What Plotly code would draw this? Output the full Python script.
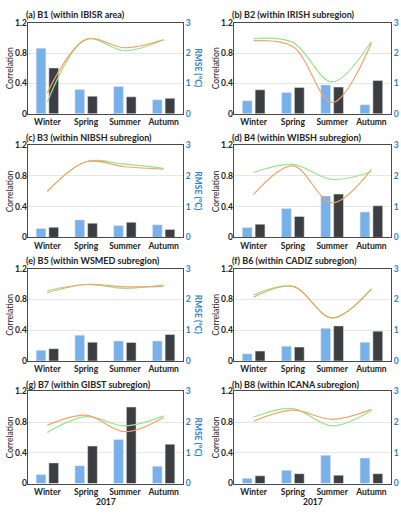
import plotly.graph_objects as go

seasons = ["Winter", "Spring", "Summer", "Autumn"]
titles = ["(a) B1 (within IBISR area)", "(b) B2 (within IRISH subregion)",
          "(c) B3 (within NIBSH subregion)", "(d) B4 (within WIBSH subregion)",
          "(e) B5 (within WSMED subregion)", "(f) B6 (within CADIZ subregion)",
          "(g) B7 (within GIBST subregion)", "(h) B8 (within ICANA subregion)"]

# RMSE bars (right axis, °C)
rmse_blue = [
    [2.16, 0.80, 0.90, 0.46],
    [0.43, 0.70, 0.95, 0.30],
    [0.29, 0.57, 0.39, 0.41],
    [0.32, 0.94, 1.35, 0.83],
    [0.35, 0.84, 0.65, 0.65],
    [0.23, 0.48, 1.06, 0.61],
    [0.29, 0.58, 1.43, 0.56],
    [0.17, 0.43, 0.92, 0.83],
]
rmse_dark = [
    [1.51, 0.58, 0.56, 0.51],
    [0.79, 0.87, 0.88, 1.10],
    [0.33, 0.46, 0.49, 0.26],
    [0.43, 0.68, 1.41, 1.03],
    [0.40, 0.61, 0.60, 0.86],
    [0.32, 0.45, 1.14, 0.97],
    [0.67, 1.22, 2.49, 1.28],
    [0.25, 0.32, 0.27, 0.32],
]
# Correlation lines (left axis)
corr_orange = [
    [0.28, 0.98, 0.87, 0.975],
    [0.96, 0.885, 0.15, 0.93],
    [0.60, 0.985, 0.92, 0.89],
    [0.56, 0.93, 0.45, 0.885],
    [0.89, 0.995, 0.965, 0.97],
    [0.83, 0.97, 0.56, 0.935],
    [0.76, 0.89, 0.675, 0.86],
    [0.81, 0.955, 0.835, 0.965],
]
corr_green = [
    [0.16, 0.98, 0.83, 0.975],
    [0.99, 0.94, 0.42, 0.955],
    [0.60, 0.985, 0.955, 0.90],
    [0.845, 0.95, 0.755, 0.855],
    [0.915, 0.995, 0.945, 0.99],
    [0.86, 0.97, 0.56, 0.94],
    [0.665, 0.87, 0.75, 0.88],
    [0.865, 0.975, 0.75, 0.95],
]
corr_ticks = [0, 0.4, 0.8, 1.2]
corr_ticktext = ["0", "0.4", "0.8", "1.2"]
rmse_ticks = [0, 1, 2, 3]
year_label = "2017"

W, H = 401, 514
FONT = "Lato"
BLUE = "#78B1EA"
DARK = "#3C3E42"
ORANGE = "#F2A466"
GREEN = "#98E38E"
TICKBLUE = "#2E7FCB"
FRAME = "#4A4A4A"

col_x = [(28, 183), (234, 391)]
row_y = [(18, 111), (143, 237), (269, 363), (394, 488)]
title_y = [9.5, 135, 261, 387]

fig = go.Figure()
layout = dict(width=W, height=H, margin=dict(l=0, r=0, t=0, b=0),
              paper_bgcolor="white", plot_bgcolor="white",
              showlegend=False, barmode="group", bargap=0.345, bargroupgap=0.236,
              font=dict(family=FONT, size=8, color="#222"))
annotations = []

def yname(n):
    return "yaxis" if n == 1 else f"yaxis{n}"

def px2x(px):
    return px / W

def px2y(py):
    return 1 - py / H

for k in range(8):
    r, c = divmod(k, 2)
    xn = k + 1
    yb = 2 * k + 1
    yo = 2 * k + 2
    xref = "x" if xn == 1 else f"x{xn}"
    ybref = "y" if yb == 1 else f"y{yb}"
    yoref = f"y{yo}"
    x0, x1 = col_x[c]
    yt, ybt = row_y[r]
    layout["xaxis" if xn == 1 else f"xaxis{xn}"] = dict(
        domain=[px2x(x0), px2x(x1)], anchor=ybref, type="category",
        categoryorder="array", categoryarray=seasons,
        range=[-0.5, 3.5], showline=True, mirror=True, linecolor=FRAME, linewidth=1,
        showgrid=False, ticks="", fixedrange=True,
        tickfont=dict(family=FONT, size=8.5, color="#222", weight="bold"))
    layout[yname(yb)] = dict(
        domain=[px2y(ybt), px2y(yt)], anchor=xref, side="right", range=[0, 3],
        tickvals=rmse_ticks, showline=True, mirror=True, linecolor=FRAME, linewidth=1,
        showgrid=True, gridcolor="#E6E6E6", gridwidth=1, zeroline=False, ticks="",
        tickfont=dict(family=FONT, size=8.5, color=TICKBLUE, weight="bold"))
    layout[yname(yo)] = dict(
        overlaying=ybref, anchor=xref, side="left", range=[0, 1.2],
        tickvals=corr_ticks, ticktext=corr_ticktext, showline=False, showgrid=False,
        zeroline=False, ticks="",
        tickfont=dict(family=FONT, size=8.5, color="#222", weight="bold"))

    fig.add_trace(go.Bar(x=seasons, y=rmse_blue[k], marker_color=BLUE,
                         xaxis=xref, yaxis=ybref, offsetgroup="a"))
    fig.add_trace(go.Bar(x=seasons, y=rmse_dark[k], marker_color=DARK,
                         xaxis=xref, yaxis=ybref, offsetgroup="b"))
    fig.add_trace(go.Scatter(x=seasons, y=corr_green[k], mode="lines",
                             line=dict(color=GREEN, width=1.2, shape="spline"),
                             xaxis=xref, yaxis=yoref))
    fig.add_trace(go.Scatter(x=seasons, y=corr_orange[k], mode="lines",
                             line=dict(color=ORANGE, width=1.2, shape="spline"),
                             xaxis=xref, yaxis=yoref))

    annotations.append(dict(text=titles[k], x=px2x(x0 - 4), y=px2y(title_y[r]),
                            xref="paper", yref="paper", xanchor="left", yanchor="middle",
                            showarrow=False,
                            font=dict(family=FONT, size=9, color="#222", weight="bold")))
    annotations.append(dict(text="Correlation", x=px2x(x0 - 18), y=px2y((yt + ybt) / 2),
                            xref="paper", yref="paper", xanchor="center", yanchor="middle",
                            textangle=-90, showarrow=False,
                            font=dict(family=FONT, size=8.5, color="#222")))
    if c == 0:
        annotations.append(dict(text="RMSE (°C)", x=px2x(x1 + 15), y=px2y((yt + ybt) / 2),
                                xref="paper", yref="paper", xanchor="center", yanchor="middle",
                                textangle=90, showarrow=False,
                                font=dict(family=FONT, size=8.5, color=TICKBLUE, weight="bold")))
    if r == 3:
        annotations.append(dict(text=year_label, x=px2x((x0 + x1) / 2), y=px2y(507),
                                xref="paper", yref="paper", xanchor="center", yanchor="middle",
                                showarrow=False,
                                font=dict(family=FONT, size=8.5, color="#222", weight="bold")))

layout["annotations"] = annotations
fig.update_layout(**layout)
fig.write_html("out.html")
